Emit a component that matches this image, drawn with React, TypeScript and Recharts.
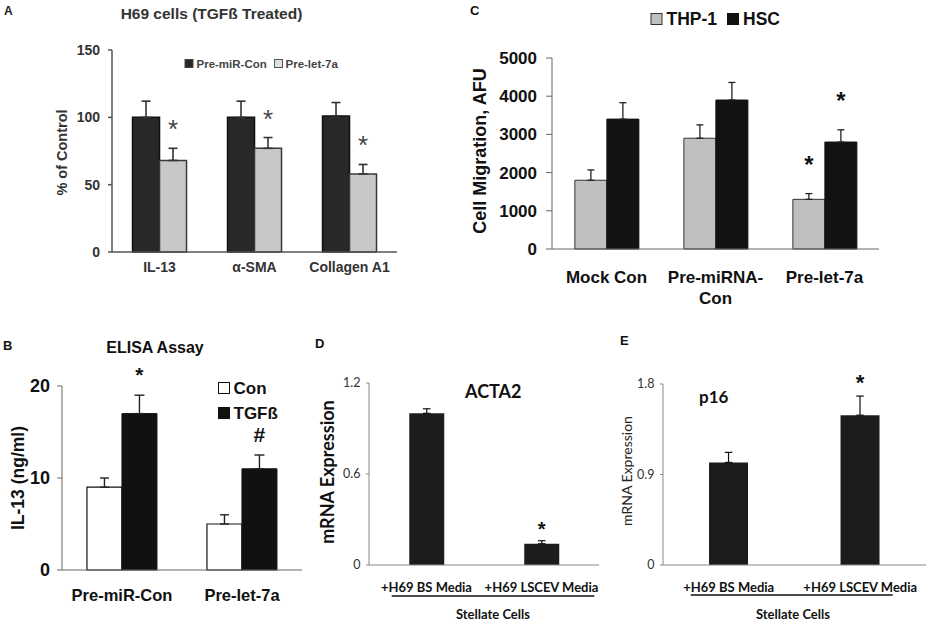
import React from "react"
import { BarChart, Bar, XAxis, YAxis, ErrorBar, LabelList } from "recharts"

const ARIAL = "'Liberation Sans', Arial, sans-serif"
const CALIBRI = "Lato, 'Noto Sans', sans-serif"

// A - H69 cells (TGFß treated), % of control
const aCategories = ["IL-13", "α-SMA", "Collagen A1"]
const aPreMiRCon = [100, 100, 101]
const aPreMiRConErr = [12, 12, 10]
const aPreLet7a = [68, 77, 58]
const aPreLet7aErr = [9, 8, 7]
const aPreLet7aMarks = ["*", "*", "*"]
const aTicks = [0, 50, 100, 150]

// B - ELISA assay, IL-13 (ng/ml)
const bCategories = ["Pre-miR-Con", "Pre-let-7a"]
const bCon = [9, 5]
const bConErr = [1, 1]
const bTgf = [17, 11]
const bTgfErr = [2, 1.5]
const bTgfMarks = ["*", "#"]
const bTicks = [0, 10, 20]

// C - cell migration (AFU)
const cCategories = ["Mock Con", "Pre-miRNA-\nCon", "Pre-let-7a"]
const cThp1 = [1800, 2900, 1300]
const cThp1Err = [270, 350, 150]
const cThp1Marks = ["", "", "*"]
const cHsc = [3400, 3900, 2800]
const cHscErr = [430, 460, 320]
const cHscMarks = ["", "", "*"]
const cTicks = [0, 1000, 2000, 3000, 4000, 5000]

// D - ACTA2 mRNA
const dCategories = ["+H69 BS Media", "+H69 LSCEV Media"]
const dActa2 = [1.0, 0.14]
const dActa2Err = [0.03, 0.02]
const dActa2Marks = ["", "*"]
const dTicks = [0, 0.6, 1.2]

// E - p16 mRNA
const eCategories = ["+H69 BS Media", "+H69 LSCEV Media"]
const eP16 = [1.02, 1.49]
const eP16Err = [0.1, 0.19]
const eP16Marks = ["", "*"]
const eTicks = [0, 0.9, 1.8]

const up = (errs: number[], i: number) => [0, errs[i]]

// star / hash above the error bar, scaled from the bar's own pixel height
function markContent(vals: number[], errs: number[], marks: string[], gap: number, style: React.CSSProperties) {
  return (props: any) => {
    const i = props.index
    const mark = marks[i]
    if (!mark) return null
    const vb = props.viewBox ?? props
    const x = vb.x ?? props.x
    const y = vb.y ?? props.y
    const w = vb.width ?? props.width
    const h = Math.abs(vb.height ?? props.height)
    const top = y - errs[i] * (h / vals[i])
    return (
      <text x={x + w / 2} y={top - gap} textAnchor="middle" style={style}>
        {mark}
      </text>
    )
  }
}

function catTick(dy: number, lh: number, style: React.CSSProperties) {
  return (props: any) => {
    const lines = String(props.payload.value).split("\n")
    return (
      <text x={props.x} y={props.y + dy} textAnchor="middle" style={style}>
        {lines.map((l, k) => (
          <tspan key={k} x={props.x} dy={k ? lh : 0}>{l}</tspan>
        ))}
      </text>
    )
  }
}

const edges = (n: number) => Array.from({ length: n + 1 }, (_, i) => i)

function PanelA() {
  const data = aCategories.map((name, i) => ({
    name, con: aPreMiRCon[i], conErr: up(aPreMiRConErr, i), let7a: aPreLet7a[i], let7aErr: up(aPreLet7aErr, i),
  }))
  return (
    <BarChart width={420} height={300} data={data} margin={{ top: 50, right: 23, bottom: 18, left: 0 }} barGap={0} barCategoryGap="21.6%">
      <XAxis xAxisId="edge" type="number" domain={[0, aCategories.length]} ticks={edges(aCategories.length)} allowDataOverflow
        height={0} axisLine={false} tick={false} tickSize={4} tickLine={{ stroke: "#555", strokeWidth: 1.5 }} />
      <XAxis xAxisId="cat" dataKey="name" height={30} interval={0} tickSize={0} tickMargin={0} tickLine={false}
        axisLine={{ stroke: "#555", strokeWidth: 1.5 }}
        tick={catTick(19.6, 0, { fontFamily: ARIAL, fontSize: 14, fontWeight: 700, fill: "#333" })} />
      <YAxis width={112} domain={[0, 150]} ticks={aTicks} interval={0} tickSize={4} tickMargin={8}
        axisLine={{ stroke: "#555", strokeWidth: 1.5 }} tickLine={{ stroke: "#555", strokeWidth: 1.5 }}
        tick={{ fontFamily: ARIAL, fontSize: 14, fontWeight: 700, fill: "#333" }} />
      <Bar xAxisId="cat" dataKey="con" fill="#282828" stroke="#111" strokeWidth={1.5} isAnimationActive={false}>
        <ErrorBar dataKey="conErr" direction="y" width={4.5} stroke="#333" strokeWidth={1.6} />
      </Bar>
      <Bar xAxisId="cat" dataKey="let7a" fill="#c8c8c8" stroke="#3a3a3a" strokeWidth={1.5} isAnimationActive={false}>
        <ErrorBar dataKey="let7aErr" direction="y" width={4.5} stroke="#333" strokeWidth={1.6} />
        <LabelList dataKey="let7a" content={markContent(aPreLet7a, aPreLet7aErr, aPreLet7aMarks, 10,
          { fontFamily: ARIAL, fontSize: 26, fill: "#444" })} />
      </Bar>
    </BarChart>
  )
}

function PanelC() {
  const data = cCategories.map((name, i) => ({
    name, thp: cThp1[i], thpErr: up(cThp1Err, i), hsc: cHsc[i], hscErr: up(cHscErr, i),
  }))
  const markStyle = { fontFamily: ARIAL, fontSize: 24, fontWeight: 700, fill: "#111" }
  return (
    <BarChart width={500} height={330} data={data} margin={{ top: 58, right: 21, bottom: 11, left: 0 }} barGap={0} barCategoryGap="21%">
      <XAxis xAxisId="edge" type="number" domain={[0, cCategories.length]} ticks={edges(cCategories.length)} allowDataOverflow
        height={0} axisLine={false} tick={false} tickSize={6} tickLine={{ stroke: "#666" }} />
      <XAxis xAxisId="cat" dataKey="name" height={70} interval={0} tickSize={0} tickMargin={0} tickLine={false}
        axisLine={{ stroke: "#666" }}
        tick={catTick(33.7, 21, { fontFamily: ARIAL, fontSize: 17, fontWeight: 700, fill: "#111" })} />
      <YAxis width={152} domain={[0, 5000]} ticks={cTicks} interval={0} tickSize={6} tickMargin={9}
        axisLine={{ stroke: "#666" }} tickLine={{ stroke: "#666" }}
        tick={{ fontFamily: ARIAL, fontSize: 17, fontWeight: 700, fill: "#111" }} />
      <Bar xAxisId="cat" dataKey="thp" fill="#c0c0c0" stroke="#333" strokeWidth={1} isAnimationActive={false}>
        <ErrorBar dataKey="thpErr" direction="y" width={3.5} stroke="#222" strokeWidth={1.3} />
        <LabelList dataKey="thp" content={markContent(cThp1, cThp1Err, cThp1Marks, 21, markStyle)} />
      </Bar>
      <Bar xAxisId="cat" dataKey="hsc" fill="#121212" stroke="#111" strokeWidth={1} isAnimationActive={false}>
        <ErrorBar dataKey="hscErr" direction="y" width={3.5} stroke="#222" strokeWidth={1.3} />
        <LabelList dataKey="hsc" content={markContent(cHsc, cHscErr, cHscMarks, 21, markStyle)} />
      </Bar>
    </BarChart>
  )
}

function PanelB() {
  const data = bCategories.map((name, i) => ({
    name, con: bCon[i], conErr: up(bConErr, i), tgf: bTgf[i], tgfErr: up(bTgfErr, i),
  }))
  return (
    <BarChart width={320} height={290} data={data} margin={{ top: 56, right: 18, bottom: 10, left: 0 }} barGap={0} barCategoryGap="20.8%">
      <XAxis xAxisId="edge" type="number" domain={[0, bCategories.length]} ticks={edges(bCategories.length)} allowDataOverflow
        height={0} axisLine={false} tick={false} tickSize={5} tickLine={{ stroke: "#666" }} />
      <XAxis xAxisId="cat" dataKey="name" height={40} interval={0} tickSize={0} tickMargin={0} tickLine={false}
        axisLine={{ stroke: "#666" }}
        tick={catTick(30.8, 0, { fontFamily: ARIAL, fontSize: 16.5, fontWeight: 700, fill: "#111" })} />
      <YAxis width={62} domain={[0, 20]} ticks={bTicks} interval={0} tickSize={5} tickMargin={7}
        axisLine={{ stroke: "#666" }} tickLine={{ stroke: "#666" }}
        tick={{ fontFamily: ARIAL, fontSize: 18, fontWeight: 700, fill: "#111" }} />
      <Bar xAxisId="cat" dataKey="con" fill="#ffffff" stroke="#111" strokeWidth={1.2} isAnimationActive={false}>
        <ErrorBar dataKey="conErr" direction="y" width={4.5} stroke="#222" strokeWidth={1.4} />
      </Bar>
      <Bar xAxisId="cat" dataKey="tgf" fill="#111111" stroke="#111" strokeWidth={1} isAnimationActive={false}>
        <ErrorBar dataKey="tgfErr" direction="y" width={5} stroke="#222" strokeWidth={1.4} />
        <LabelList dataKey="tgf" content={markContent(bTgf, bTgfErr, bTgfMarks, 13.5,
          { fontFamily: ARIAL, fontSize: 21, fontWeight: 700, fill: "#111" })} />
      </Bar>
    </BarChart>
  )
}

function MrnaPanel({ cats, vals, errs, marks, ticks, width, yWidth, top, right, markGap, markSize }: any) {
  const data = cats.map((name: string, i: number) => ({ name, v: vals[i], err: up(errs, i) }))
  return (
    <BarChart width={width} height={290} data={data} margin={{ top, right, bottom: 0, left: 0 }} barCategoryGap="35%">
      <XAxis dataKey="name" height={55} interval={0} tickSize={0} tickMargin={0} tickLine={false}
        axisLine={{ stroke: "#888" }}
        tick={catTick(27.3, 0, { fontFamily: CALIBRI, fontSize: 13, fontWeight: 700, fill: "#111" })} />
      <YAxis width={yWidth} domain={[0, ticks[ticks.length - 1]]} ticks={ticks} interval={0} tickSize={3} tickMargin={5.5}
        axisLine={{ stroke: "#888" }} tickLine={{ stroke: "#888" }}
        tick={{ fontFamily: CALIBRI, fontSize: 12.5, fill: "#333" }} />
      <Bar dataKey="v" fill="#1c1c1c" isAnimationActive={false}>
        <ErrorBar dataKey="err" direction="y" width={3.8} stroke="#111" strokeWidth={1.2} />
        <LabelList dataKey="v" content={markContent(vals, errs, marks, markGap,
          { fontFamily: ARIAL, fontSize: markSize, fontWeight: 700, fill: "#111" })} />
      </Bar>
    </BarChart>
  )
}

const vLabel = (cx: number, cy: number, text: string, style: React.CSSProperties) => (
  <text transform={`translate(${cx},${cy}) rotate(-90)`} textAnchor="middle" dominantBaseline="central" style={style}>{text}</text>
)

export default function App() {
  const arialB = (size: number, fill = "#111"): React.CSSProperties => ({ fontFamily: ARIAL, fontSize: size, fontWeight: 700, fill })
  const latoB = (size: number): React.CSSProperties => ({ fontFamily: CALIBRI, fontSize: size, fontWeight: 700, fill: "#111" })
  return (
    <div style={{ position: "absolute", left: 0, top: 0, width: 930, height: 623, background: "#fff", overflow: "hidden" }}>
      <div style={{ position: "absolute", left: 0, top: 0 }}><PanelA /></div>
      <div style={{ position: "absolute", left: 400, top: 0 }}><PanelC /></div>
      <div style={{ position: "absolute", left: 0, top: 330 }}><PanelB /></div>
      <div style={{ position: "absolute", left: 320, top: 330 }}>
        <MrnaPanel cats={dCategories} vals={dActa2} errs={dActa2Err} marks={dActa2Marks} ticks={dTicks}
          width={290} yWidth={49} top={53} right={11} markGap={5} markSize={20} />
      </div>
      <div style={{ position: "absolute", left: 620, top: 330 }}>
        <MrnaPanel cats={eCategories} vals={eP16} errs={eP16Err} marks={eP16Marks} ticks={eTicks}
          width={310} yWidth={43} top={54} right={4} markGap={6.5} markSize={22} />
      </div>

      <svg width={930} height={623} style={{ position: "absolute", left: 0, top: 0, pointerEvents: "none" }}>
        {/* A */}
        <text x={4} y={15} style={arialB(12, "#222")}>A</text>
        <text x={211.5} y={19} textAnchor="middle" style={arialB(15.5, "#333")}>H69 cells (TGFß Treated)</text>
        {vLabel(61.5, 152.5, "% of Control", arialB(14.5, "#333"))}
        <rect x={185} y={59.5} width={8} height={8} fill="#282828" stroke="#444" />
        <text x={196.5} y={67.5} style={arialB(11.5, "#444")}>Pre-miR-Con</text>
        <rect x={274.5} y={59.5} width={8} height={8} fill="#e0e0e0" stroke="#555" />
        <text x={285.5} y={67.5} style={arialB(11.5, "#444")}>Pre-let-7a</text>

        {/* C */}
        <text x={470} y={15} style={arialB(13)}>C</text>
        <rect x={651} y={13.5} width={11} height={11} fill="#c0c0c0" stroke="#333" />
        <text x={666.5} y={25} style={arialB(17.5)}>THP-1</text>
        <rect x={727.5} y={13.5} width={11} height={11} fill="#121212" stroke="#111" />
        <text x={743} y={25} style={arialB(17.5)}>HSC</text>
        {vLabel(479.5, 151, "Cell Migration, AFU", arialB(18))}

        {/* B */}
        <text x={3} y={350} style={arialB(13)}>B</text>
        <text x={155} y={352.5} textAnchor="middle" style={arialB(16)}>ELISA Assay</text>
        <rect x={218.5} y={382.5} width={11} height={11} fill="#fff" stroke="#111" />
        <text x={233.5} y={394} style={arialB(17)}>Con</text>
        <rect x={218.5} y={407.5} width={11} height={11} fill="#111" stroke="#111" />
        <text x={233.5} y={419} style={arialB(17)}>TGFß</text>
        {vLabel(17.5, 478, "IL-13 (ng/ml)", arialB(17.5))}

        {/* D */}
        <text x={315} y={348} style={arialB(13)}>D</text>
        <text x={493.3} y={398} textAnchor="middle" style={latoB(18)}>ACTA2</text>
        {vLabel(327, 472, "mRNA Expression", latoB(18))}
        <line x1={391.7} x2={594.3} y1={596} y2={596} stroke="#111" strokeWidth={1.5} />
        <text x={493} y={618.5} textAnchor="middle" style={latoB(13)}>Stellate Cells</text>

        {/* E */}
        <text x={620} y={345} style={arialB(13)}>E</text>
        <text x={699} y={402.5} style={latoB(17)}>p16</text>
        {vLabel(626.7, 471, "mRNA Expression", { fontFamily: CALIBRI, fontSize: 14, fill: "#222" })}
        <line x1={690.7} x2={892.7} y1={595} y2={595} stroke="#111" strokeWidth={1.5} />
        <text x={793} y={619} textAnchor="middle" style={latoB(13)}>Stellate Cells</text>
      </svg>
    </div>
  )
}
